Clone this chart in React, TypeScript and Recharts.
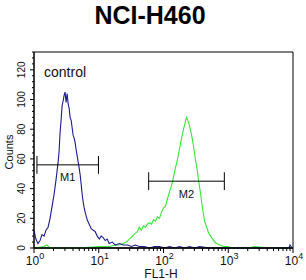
import React from 'react';
import { LineChart, Line, XAxis, YAxis, ReferenceLine, ReferenceDot, ReferenceArea } from 'recharts';

// FL1-H channel values and counts for the control (blue) histogram
const controlFl = [
  1.0, 1.07, 1.15, 1.24, 1.33, 1.43, 1.53, 1.65, 1.77, 1.9, 2.04, 2.19, 2.36, 2.44, 2.53, 2.62,
  2.72, 2.82, 2.92, 3.02, 3.13, 3.25, 3.37, 3.49, 3.61, 3.75, 3.88, 4.02, 4.17, 4.32, 4.48, 4.64,
  4.81, 4.98, 5.17, 5.35, 5.55, 5.75, 5.96, 6.18, 6.63, 7.12, 7.65, 8.22, 8.83, 9.48, 10.2, 10.9,
  11.7, 12.6, 13.5, 14.5, 16.2, 18.0, 20.8, 23.9, 27.7, 31.9, 36.7, 42.3, 50.7, 60.7, 72.5, 86.7,
  104, 124, 148, 177, 212, 253, 303, 361, 517, 738, 1510, 3080, 6290, 8680, 8980, 9330, 9640,
];
const controlCounts = [
  12, 6, 3, 5, 9, 8, 12, 14, 20, 28, 36, 46, 58, 65, 78, 86,
  96, 99, 103, 105, 98, 104, 97, 94, 88, 86, 81, 76, 74, 71, 66, 62,
  58, 54, 49, 43, 36, 31, 27, 24, 19, 16, 13, 12, 11, 8, 6, 8,
  7, 5, 6, 3, 4, 2, 3, 2, 2, 1, 2, 1, 1, 0, 1, 1,
  0, 1, 0, 1, 0, 1, 0, 1, 0, 0, 0, 0, 0, 0, 2, 1, 0,
];

// FL1-H channel values and counts for the stained sample (green) histogram
const sampleFl = [
  1.0, 1.43, 1.59, 1.77, 2.44, 4.98, 10.2, 14.5, 18.0, 20.8, 23.9, 26.7, 29.7, 33.1, 36.7, 39.5,
  42.3, 45.6, 49.0, 52.6, 56.5, 60.7, 65.2, 70.0, 75.2, 80.7, 86.7, 93.1, 100, 107, 115, 124,
  133, 143, 153, 165, 177, 183, 190, 197, 204, 212, 219, 227, 236, 244, 253, 262,
  272, 282, 292, 303, 313, 325, 337, 349, 361, 375, 388, 402, 417, 432, 448, 464,
  499, 535, 575, 618, 663, 738, 851, 982, 1130, 2150, 2500, 4400, 9640, 10000,
];
const sampleCounts = [
  0, 1, 2, 0, 0, 0, 1, 1, 2, 2, 3, 4, 6, 8, 10, 11,
  14, 12, 15, 14, 16, 17, 16, 19, 18, 21, 20, 24, 27, 28, 33, 38,
  42, 48, 54, 60, 67, 70, 74, 77, 80, 83, 86, 88, 86, 85, 82, 79,
  76, 72, 68, 63, 59, 55, 50, 45, 41, 36, 31, 26, 22, 18, 16, 14,
  10, 8, 6, 4, 3, 2, 1, 1, 0, 0, 1, 0, 0, 0,
];

const decadeTicks = [1, 10, 100, 1000, 10000];
const decadeExponents = ['0', '1', '2', '3', '4'];
const countTicks = [0, 20, 40, 60, 80, 100, 120];
const countMax = 132;

const gateNames = ['M1', 'M2'];
const gateFrom = [1.11, 59];
const gateTo = [9.9, 870];
const gateLevel = [56, 45];

const controlData = controlFl.map((fl, i) => ({ fl, count: controlCounts[i] }));
const sampleData = sampleFl.map((fl, i) => ({ fl, count: sampleCounts[i] }));

const xTicks: number[] = [];
decadeTicks.forEach((d, i) => {
  xTicks.push(d);
  if (i < decadeTicks.length - 1) {
    for (let m = 2; m <= 9; m++) xTicks.push(d * m);
  }
});
const yTicks: number[] = [];
for (let v = 0; v <= countMax; v += 4) yTicks.push(v);

const FONT = '"Liberation Sans", Arial, sans-serif';

const XTick = (props: any) => {
  const { x, y, payload } = props;
  const idx = decadeTicks.indexOf(payload.value);
  const major = idx >= 0;
  return (
    <g>
      <line x1={x} x2={x} y1={y} y2={y + (major ? 5 : 3)} stroke="#000" />
      {major && (
        <text x={x + 1} y={y + 17} textAnchor="middle" fontSize={12} fill="#111" fontFamily={FONT}>
          10<tspan dy={-6} fontSize={9}>{decadeExponents[idx]}</tspan>
        </text>
      )}
    </g>
  );
};

const YTick = (props: any) => {
  const { x, y, payload } = props;
  const major = countTicks.includes(payload.value);
  return (
    <g>
      <line x1={x - (major ? 4 : 2)} x2={x} y1={y} y2={y} stroke="#000" />
      {major && (
        <text
          transform={`translate(${x - 9},${y}) rotate(-90)`}
          textAnchor="middle"
          fontSize={10}
          fill="#111"
          fontFamily={FONT}
        >
          {payload.value}
        </text>
      )}
    </g>
  );
};

const LabelMark = (text: string, size: number, anchor: string) => (props: any) => (
  <text x={props.cx} y={props.cy} textAnchor={anchor} fontSize={size} fill="#111" fontFamily={FONT}>
    {text}
  </text>
);

export default function App() {
  return (
    <div style={{ position: 'absolute', left: 0, top: 0, width: 306, height: 280, background: '#fff' }}>
      <svg width={306} height={280} style={{ position: 'absolute', left: 0, top: 0 }}>
        <text x={150} y={24} textAnchor="middle" fontSize={25} fontWeight="bold" fill="#000" fontFamily={FONT}>
          NCI-H460
        </text>
        <text transform="translate(13,152) rotate(-90)" textAnchor="middle" fontSize={11} fill="#111" fontFamily={FONT}>
          Counts
        </text>
        <text x={161} y={278} textAnchor="middle" fontSize={12} fill="#111" fontFamily={FONT}>
          FL1-H
        </text>
      </svg>
      <div style={{ position: 'absolute', left: 0, top: 0 }}>
        <LineChart width={306} height={280} margin={{ top: 52, right: 13, bottom: 0, left: 0 }}>
          <XAxis
            dataKey="fl"
            type="number"
            scale="log"
            domain={[1, 10000]}
            ticks={xTicks}
            interval={0}
            tick={<XTick />}
            tickLine={false}
            tickSize={0}
            tickMargin={0}
            axisLine={{ stroke: '#000', strokeWidth: 1.5 }}
            height={32}
            allowDataOverflow
          />
          <YAxis
            dataKey="count"
            type="number"
            domain={[0, countMax]}
            ticks={yTicks}
            interval={0}
            tick={<YTick />}
            tickLine={false}
            tickSize={0}
            tickMargin={0}
            axisLine={{ stroke: '#000' }}
            width={34}
          />
          <ReferenceArea x1={1} x2={10000} y1={0} y2={countMax} fill="none" stroke="#000" strokeWidth={1} />
          <Line
            data={sampleData}
            dataKey="count"
            type="linear"
            stroke="#36e636"
            strokeWidth={1.1}
            dot={false}
            isAnimationActive={false}
          />
          <Line
            data={controlData}
            dataKey="count"
            type="linear"
            stroke="#1c1c8e"
            strokeWidth={1.1}
            dot={false}
            isAnimationActive={false}
          />
          {gateNames.map((name, i) => (
            <ReferenceLine
              key={name + 'h'}
              segment={[{ x: gateFrom[i], y: gateLevel[i] }, { x: gateTo[i], y: gateLevel[i] }]}
              stroke="#000"
            />
          ))}
          {gateNames.map((name, i) => (
            <ReferenceLine
              key={name + 'a'}
              segment={[{ x: gateFrom[i], y: gateLevel[i] - 6 }, { x: gateFrom[i], y: gateLevel[i] + 6 }]}
              stroke="#000"
            />
          ))}
          {gateNames.map((name, i) => (
            <ReferenceLine
              key={name + 'b'}
              segment={[{ x: gateTo[i], y: gateLevel[i] - 6 }, { x: gateTo[i], y: gateLevel[i] + 6 }]}
              stroke="#000"
            />
          ))}
          {gateNames.map((name, i) => (
            <ReferenceDot
              key={name + 'l'}
              x={Math.sqrt(gateFrom[i] * gateTo[i])}
              y={gateLevel[i] - 11}
              r={0}
              shape={LabelMark(name, 11, 'middle')}
            />
          ))}
          <ReferenceDot x={1.43} y={115} r={0} shape={LabelMark('control', 14, 'start')} />
        </LineChart>
      </div>
    </div>
  );
}
